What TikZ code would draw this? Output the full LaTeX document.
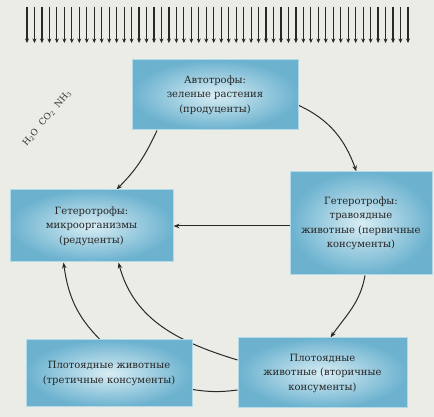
\documentclass[tikz,border=0pt]{standalone}
\usepackage{fontspec}
\setmainfont{DejaVu Serif}
\usetikzlibrary{positioning,arrows.meta}
\definecolor{paper}{RGB}{236,236,231}
\definecolor{boxdark}{RGB}{108,178,207}
\definecolor{boxlight}{RGB}{216,237,244}
\definecolor{boxrim}{RGB}{178,218,233}
\definecolor{ink}{RGB}{40,40,40}
\pgfdeclarelayer{paperlayer}
\pgfdeclarelayer{edgelayer}
\pgfsetlayers{paperlayer,edgelayer,main}
\tikzset{
  eco/.style={rectangle, draw=boxrim, line width=1pt, inner sep=0pt,
    inner color=boxlight, outer color=boxdark, align=center,
    font=\fontsize{10}{14.5}\selectfont, text=black!85},
  flow/.style={-{Stealth[length=6pt,width=4.5pt]}, draw=ink, line width=1pt},
  sun/.style={-{Stealth[length=4.5pt,width=4pt]}, draw=ink, line width=1.2pt}
}
\begin{document}
\begin{tikzpicture}[x=1pt,y=1pt]
\begin{pgfonlayer}{paperlayer}
\fill[paper] (0,0) rectangle (434,417);
\end{pgfonlayer}
\useasboundingbox (0,0) rectangle (434,417);
% sunlight
\foreach \i in {0,...,51}
  \draw[sun] ({27+7.47*\i},410) -- ({27+7.47*\i},374);
%
\node[eco, minimum width=166, minimum height=70] (auto) at (215,322)
  {Автотрофы:\\зеленые растения\\(продуценты)};
\node[eco, minimum width=163, minimum height=72] (micro) at (91.5,191)
  {Гетеротрофы:\\микроорганизмы\\(редуценты)};
\node[eco, minimum width=142, minimum height=103] (herb) at (361,193.5)
  {Гетеротрофы:\\травоядные\\животные (первичные\\консументы)};
\node[eco, minimum width=166, minimum height=67] (third) at (109,43.5)
  {Плотоядные животные\\(третичные консументы)};
\node[eco, minimum width=169, minimum height=70] (second) at (322.5,44)
  {Плотоядные\\животные (вторичные\\консументы)};
\node[rotate=50, font=\fontsize{9}{10}\selectfont, text=black!80] (gases) at (47,299)
  {H\textsubscript{2}O\hspace{3pt} CO\textsubscript{2}\hspace{3pt} NH\textsubscript{3}};
%
\begin{pgfonlayer}{edgelayer}
\draw[flow] (auto.-7) to[out=-25,in=110] (herb.95);
\draw[flow] ([xshift=-58pt]auto.south) to[out=-115,in=45] ([xshift=25pt]micro.north);
\draw[flow] (herb.west |- micro.east) -- (micro.east);
\draw[flow] ([xshift=4pt]herb.south) to[out=-100,in=55] ([xshift=8pt]second.north);
\draw[flow] ([yshift=13pt]second.west) to[out=163,in=-75] ([xshift=27pt]micro.south);
\draw[flow,-] ([yshift=-17pt]second.west) to[bend left=8] ([yshift=-16pt]third.east);
\draw[flow] ([xshift=-9pt]third.north) to[out=135,in=-82] ([xshift=-28pt]micro.south);
\end{pgfonlayer}
\end{tikzpicture}
\end{document}
